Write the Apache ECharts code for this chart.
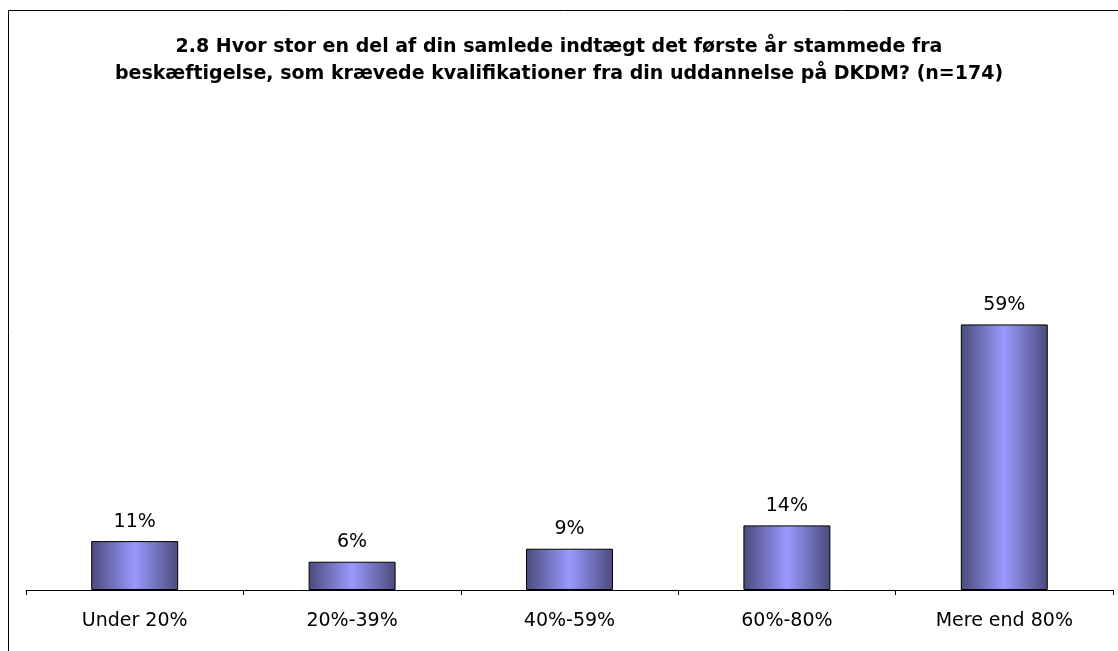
<!DOCTYPE html>
<html>
<head>
<meta charset="utf-8">
<script src="https://cdn.jsdelivr.net/npm/echarts@6/dist/echarts.min.js"></script>
<style>
  html, body { margin: 0; padding: 0; background: #fff; }
  #chart { width: 1118px; height: 651px; }
</style>
</head>
<body>
<div id="chart"></div>
<script>
    var categories = ['Under 20%', '20%-39%', '40%-59%', '60%-80%', 'Mere end 80%'];
    var shares = [10.9, 6.3, 9.2, 14.4, 59.2];
    var titleText = '2.8 Hvor stor en del af din samlede indtægt det første år stammede fra\nbeskæftigelse, som krævede kvalifikationer fra din uddannelse på DKDM? (n=174)';

    var chart = echarts.init(document.getElementById('chart'));

    var barFill = new echarts.graphic.LinearGradient(0, 0, 1, 0, [
        {offset: 0, color: '#4b4b7c'},
        {offset: 0.5, color: '#9999ff'},
        {offset: 1, color: '#4b4b7c'}
    ]);

    chart.setOption({
        animation: false,
        backgroundColor: '#fff',
        textStyle: {fontFamily: 'DejaVu Sans'},
        title: {
            text: titleText,
            left: 'center',
            top: 29,
            textStyle: {
                fontFamily: 'DejaVu Sans',
                fontWeight: 'bold',
                fontSize: 19,
                lineHeight: 27,
                color: '#000'
            }
        },
        graphic: [{
            type: 'rect',
            shape: {x: 8.5, y: 10.5, width: 1200, height: 700},
            style: {fill: 'none', stroke: '#000', lineWidth: 1}
        }],
        grid: {left: 26, right: 5, top: 276, bottom: 61},
        xAxis: {
            type: 'category',
            data: categories,
            axisLine: {lineStyle: {color: '#000', width: 1}},
            axisTick: {show: true, length: 5, lineStyle: {color: '#000'}},
            axisLabel: {color: '#000', fontSize: 19, margin: 22}
        },
        yAxis: {
            type: 'value',
            min: 0,
            max: 70,
            show: false
        },
        series: [{
            type: 'bar',
            data: shares,
            barWidth: '40%',
            itemStyle: {color: barFill, borderColor: '#000', borderWidth: 1},
            label: {
                show: true,
                position: 'top',
                distance: 10,
                color: '#000',
                fontSize: 19,
                formatter: function (p) { return Math.round(p.value) + '%'; }
            }
        }]
    });
</script>
</body>
</html>
